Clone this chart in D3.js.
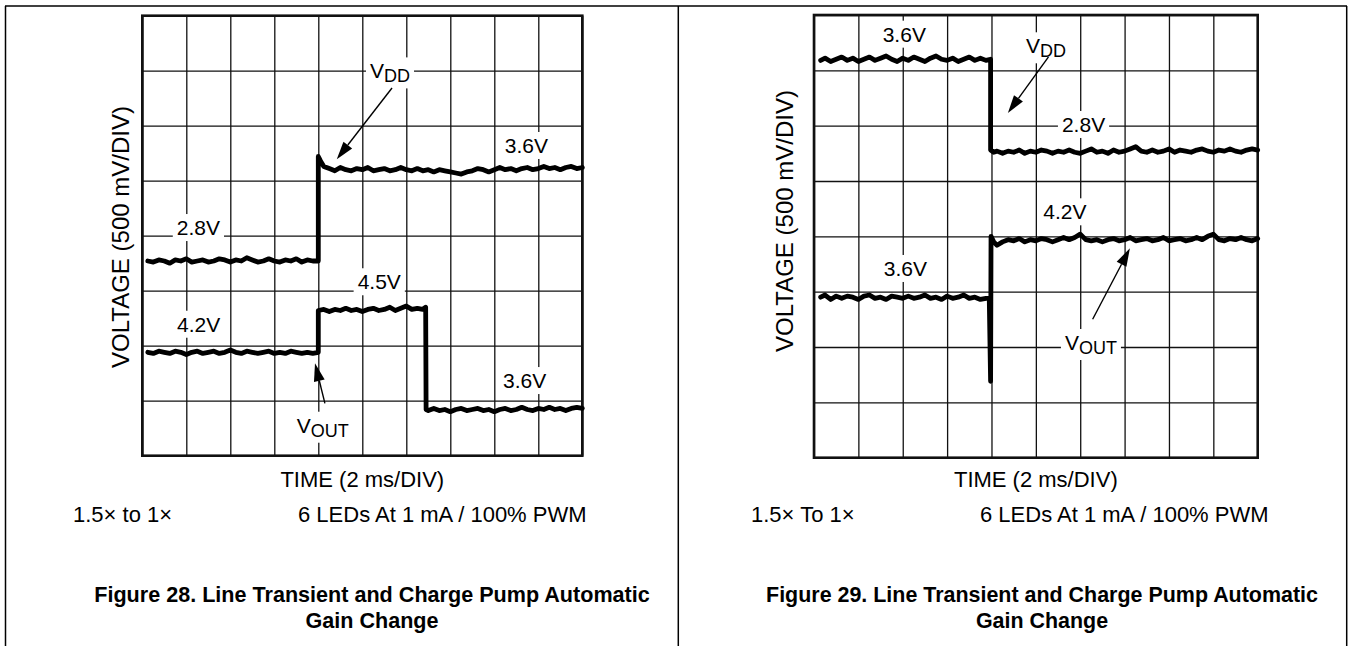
<!DOCTYPE html>
<html><head><meta charset="utf-8">
<script src="https://cdn.jsdelivr.net/npm/d3@7/dist/d3.min.js"></script>
<style>
html,body{margin:0;padding:0;background:#fff;}
svg{display:block;}
text{font-family:"Liberation Sans",Arial,Helvetica,sans-serif;fill:#000;}
</style></head><body>
<svg id="c" width="1354" height="646"></svg>
<script>
// ---- data (screen volts: 0.5 V/div, 8 div; time in ms: 2 ms/div, 10 div) ----
const timeTicks = [0,2,4,6,8,10,12,14,16,18,20];
const voltTicks = [0,0.5,1,1.5,2,2.5,3,3.5,4];

const fig28Vdd = [
  [0.25,1.77],[0.5,1.76],[0.75,1.78],[1,1.77],[1.25,1.75],[1.5,1.78],[1.75,1.77],[2,1.79],[2.25,1.76],[2.5,1.77],[2.75,1.78],[3,1.76],[3.25,1.77],[3.5,1.79],[3.75,1.78],[4,1.76],
  [4.25,1.78],[4.5,1.77],[4.75,1.80],[5,1.78],[5.25,1.76],[5.5,1.77],[5.75,1.79],[6,1.77],[6.25,1.76],[6.5,1.78],[6.75,1.77],[7,1.79],[7.25,1.76],[7.5,1.78],[7.75,1.77],[8,1.77],
  [8,2.72],[8.1,2.68],[8.25,2.63],[8.5,2.61],[8.75,2.59],[9,2.62],[9.25,2.60],[9.5,2.59],[9.75,2.61],[10,2.60],[10.25,2.62],[10.5,2.59],[10.75,2.60],[11,2.61],[11.25,2.59],[11.5,2.60],
  [11.75,2.62],[12,2.60],[12.25,2.59],[12.5,2.61],[12.75,2.59],[13,2.60],[13.25,2.58],[13.5,2.60],[13.75,2.59],[14,2.58],[14.25,2.57],[14.5,2.56],[14.75,2.58],[15,2.59],[15.25,2.61],
  [15.5,2.60],[15.75,2.58],[16,2.60],[16.25,2.62],[16.5,2.60],[16.75,2.61],[17,2.59],[17.25,2.61],[17.5,2.62],[17.75,2.60],[18,2.61],[18.25,2.63],[18.5,2.61],[18.75,2.62],[19,2.60],
  [19.25,2.62],[19.5,2.63],[19.75,2.61],[20,2.62]];
const fig28Vout = [
  [0.25,0.94],[0.5,0.93],[0.75,0.95],[1,0.94],[1.25,0.93],[1.5,0.95],[1.75,0.94],[2,0.92],[2.25,0.94],[2.5,0.95],[2.75,0.93],[3,0.94],[3.25,0.95],[3.5,0.93],[3.75,0.94],[4,0.96],
  [4.25,0.94],[4.5,0.93],[4.75,0.95],[5,0.94],[5.25,0.93],[5.5,0.94],[5.75,0.95],[6,0.93],[6.25,0.94],[6.5,0.93],[6.75,0.95],[7,0.94],[7.25,0.93],[7.5,0.94],[7.75,0.93],[8,0.94],
  [8,1.32],[8.25,1.33],[8.5,1.31],[8.75,1.33],[9,1.32],[9.25,1.34],[9.5,1.32],[9.75,1.33],[10,1.31],[10.25,1.33],[10.5,1.34],[10.75,1.32],[11,1.33],[11.25,1.35],[11.5,1.32],
  [11.75,1.34],[12,1.36],[12.25,1.33],[12.5,1.34],[12.75,1.33],[12.88,1.35],
  [12.9,0.42],[13,0.41],[13.25,0.43],[13.5,0.41],[13.75,0.42],[14,0.40],[14.25,0.42],[14.5,0.43],[14.75,0.41],[15,0.42],[15.25,0.43],[15.5,0.41],[15.75,0.42],[16,0.40],[16.25,0.42],
  [16.5,0.43],[16.75,0.41],[17,0.42],[17.25,0.44],[17.5,0.42],[17.75,0.41],[18,0.43],[18.25,0.42],[18.5,0.44],[18.75,0.42],[19,0.43],[19.25,0.41],[19.5,0.43],[19.75,0.44],[20,0.43]];
const fig29Vdd = [
  [0.3,3.59],[0.5,3.61],[0.75,3.58],[1,3.60],[1.25,3.62],[1.5,3.59],[1.75,3.61],[2,3.58],[2.25,3.60],[2.5,3.62],[2.75,3.59],[3,3.61],[3.25,3.63],[3.5,3.60],[3.75,3.58],[4,3.61],
  [4.25,3.59],[4.5,3.62],[4.75,3.60],[5,3.58],[5.25,3.61],[5.5,3.63],[5.75,3.60],[6,3.59],[6.25,3.61],[6.5,3.58],[6.75,3.60],[7,3.62],[7.25,3.59],[7.5,3.61],[7.75,3.59],[7.96,3.60],
  [7.96,2.78],[8.1,2.76],[8.25,2.77],[8.5,2.75],[8.75,2.77],[9,2.76],[9.25,2.78],[9.5,2.75],[9.75,2.77],[10,2.76],[10.25,2.78],[10.5,2.77],[10.75,2.75],[11,2.77],[11.25,2.76],
  [11.5,2.78],[11.75,2.76],[12,2.75],[12.25,2.77],[12.5,2.79],[12.75,2.76],[13,2.77],[13.25,2.75],[13.5,2.78],[13.75,2.76],[14,2.77],[14.25,2.79],[14.5,2.81],[14.75,2.77],[15,2.76],
  [15.25,2.78],[15.5,2.76],[15.75,2.77],[16,2.79],[16.25,2.76],[16.5,2.78],[16.75,2.77],[17,2.76],[17.25,2.78],[17.5,2.79],[17.75,2.77],[18,2.76],[18.25,2.78],[18.5,2.77],[18.75,2.79],
  [19,2.77],[19.25,2.76],[19.5,2.78],[19.75,2.79],[20,2.78]];
const fig29Vout = [
  [0.3,1.45],[0.5,1.47],[0.75,1.43],[1,1.46],[1.25,1.44],[1.5,1.46],[1.75,1.45],[2,1.43],[2.25,1.46],[2.5,1.47],[2.75,1.44],[3,1.45],[3.25,1.43],[3.5,1.46],[3.75,1.45],[4,1.44],
  [4.25,1.46],[4.5,1.44],[4.75,1.45],[5,1.47],[5.25,1.44],[5.5,1.45],[5.75,1.43],[6,1.46],[6.25,1.44],[6.5,1.45],[6.75,1.47],[7,1.44],[7.25,1.45],[7.5,1.43],[7.75,1.44],[7.9,1.44],
  [7.96,0.69],[7.98,2.00],[8.1,1.95],[8.25,1.92],[8.5,1.95],[8.75,1.97],[9,1.96],[9.25,1.98],[9.5,1.95],[9.75,1.97],[10,1.96],[10.25,1.98],[10.5,1.97],[10.75,1.95],[11,1.97],
  [11.25,1.99],[11.5,1.97],[11.75,1.99],[12,2.02],[12.25,1.97],[12.5,1.96],[12.75,1.97],[13,1.95],[13.25,1.97],[13.5,1.98],[13.75,1.96],[14,1.97],[14.25,1.99],[14.5,1.96],[14.75,1.97],
  [15,1.98],[15.25,1.96],[15.5,1.97],[15.75,1.99],[16,1.96],[16.25,1.97],[16.5,1.98],[16.75,1.96],[17,1.97],[17.25,1.99],[17.5,1.97],[17.75,2.00],[18,2.02],[18.25,1.97],[18.5,1.96],
  [18.75,1.98],[19,1.97],[19.25,1.99],[19.5,1.97],[19.75,1.96],[20,1.98]];

const xTitle = "TIME (2 ms/DIV)";
const yTitle = "VOLTAGE (500 mV/DIV)";
const fig28Notes = ["1.5× to 1×", "6 LEDs At 1 mA / 100% PWM"];
const fig29Notes = ["1.5× To 1×", "6 LEDs At 1 mA / 100% PWM"];
const fig28Caption = ["Figure 28. Line Transient and Charge Pump Automatic", "Gain Change"];
const fig29Caption = ["Figure 29. Line Transient and Charge Pump Automatic", "Gain Change"];

// annotation texts anchored in data coordinates
const fig28Labels = [
  {main:"3.6V", t:17.46, v:2.752, anchor:"middle"},
  {main:"2.8V", t:2.55, v:2.006, anchor:"middle"},
  {main:"4.5V", t:10.77, v:1.513, anchor:"middle"},
  {main:"4.2V", t:2.56, v:1.127, anchor:"middle"},
  {main:"3.6V", t:17.38, v:0.615, anchor:"middle"},
  {main:"V", sub:"OUT", t:7.02, v:0.209, anchor:"start"},
  {main:"V", sub:"DD", t:10.35, v:3.43, anchor:"start"}
];
const fig28Arrows = [
  {from:[11.35,3.343], to:[8.84,2.695]},
  {from:[8.30,0.476], to:[7.85,0.84]}
];
const fig29Labels = [
  {main:"3.6V", t:4.07, v:3.759, anchor:"middle"},
  {main:"V", sub:"DD", t:9.56, v:3.654, anchor:"start"},
  {main:"2.8V", t:12.15, v:2.943, anchor:"middle"},
  {main:"4.2V", t:11.31, v:2.154, anchor:"middle"},
  {main:"3.6V", t:4.12, v:1.642, anchor:"middle"},
  {main:"V", sub:"OUT", t:11.31, v:0.973, anchor:"start"}
];
const fig29Arrows = [
  {from:[10.57,3.621], to:[8.74,3.115]},
  {from:[12.56,1.251], to:[14.24,1.892]}
];

// ---- layout ----
const panels = [
  {grid:{x:142.3,y:15.7,w:440,h:440}, vdd:fig28Vdd, vout:fig28Vout, labels:fig28Labels, arrows:fig28Arrows,
   notes:fig28Notes, notesX:[73,298], caption:fig28Caption, capX:372, capW:556, yLabX:129, yLabY:237},
  {grid:{x:814,y:15,w:443.7,h:442.7}, vdd:fig29Vdd, vout:fig29Vout, labels:fig29Labels, arrows:fig29Arrows,
   notes:fig29Notes, notesX:[751,980], caption:fig29Caption, capX:1042, capW:552, yLabX:793, yLabY:221}
];

const svg = d3.select("#c");
svg.append("rect").attr("width",1354).attr("height",646).attr("fill","#fff");

// page frame
const frame = svg.append("g").attr("stroke","#000").attr("stroke-width",1.5).attr("fill","none");
frame.append("line").attr("x1",5).attr("x2",1347).attr("y1",6).attr("y2",6);
frame.append("line").attr("x1",5.5).attr("x2",5.5).attr("y1",6).attr("y2",646);
frame.append("line").attr("x1",678.3).attr("x2",678.3).attr("y1",6).attr("y2",646);
frame.append("line").attr("x1",1346.7).attr("x2",1346.7).attr("y1",6).attr("y2",646);

panels.forEach(p => {
  const g = p.grid;
  const x = d3.scaleLinear().domain([timeTicks[0], timeTicks[timeTicks.length-1]]).range([g.x, g.x+g.w]);
  const y = d3.scaleLinear().domain([voltTicks[0], voltTicks[voltTicks.length-1]]).range([g.y+g.h, g.y]);
  const root = svg.append("g");

  // grid via axes
  const gx = root.append("g").attr("transform",`translate(0,${g.y+g.h})`)
    .call(d3.axisBottom(x).tickValues(timeTicks).tickSize(-g.h).tickFormat(""));
  const gy = root.append("g").attr("transform",`translate(${g.x},0)`)
    .call(d3.axisLeft(y).tickValues(voltTicks).tickSize(-g.w).tickFormat(""));
  [gx,gy].forEach(a => {
    a.select(".domain").remove();
    a.selectAll(".tick line").attr("stroke","#111").attr("stroke-width",1.3);
  });
  root.append("rect").attr("x",g.x).attr("y",g.y).attr("width",g.w).attr("height",g.h)
    .attr("fill","none").attr("stroke","#111").attr("stroke-width",2.6);

  // labels with white boxes
  const lab = root.append("g");
  p.labels.forEach(l => {
    const grp = lab.append("g");
    const t = grp.append("text").attr("x",x(l.t)).attr("y",y(l.v))
      .attr("text-anchor",l.anchor).attr("font-size",21);
    t.append("tspan").text(l.main);
    if (l.sub) t.append("tspan").attr("font-size",18).attr("dy",4).text(l.sub);
    const bb = t.node().getBBox();
    grp.insert("rect","text").attr("x",bb.x-4).attr("y",bb.y-2).attr("width",bb.width+8).attr("height",bb.height+4).attr("fill","#fff");
  });

  // arrows
  p.arrows.forEach(a => {
    const x1 = x(a.from[0]), y1 = y(a.from[1]), x2 = x(a.to[0]), y2 = y(a.to[1]);
    const ang = Math.atan2(y2-y1, x2-x1), L = 18, W = 5.5;
    const bx = x2 - L*Math.cos(ang), by = y2 - L*Math.sin(ang);
    root.append("line").attr("x1",x1).attr("y1",y1).attr("x2",bx).attr("y2",by).attr("stroke","#000").attr("stroke-width",1.4);
    const pts = [[x2,y2],[bx + W*Math.sin(ang), by - W*Math.cos(ang)],[bx - W*Math.sin(ang), by + W*Math.cos(ang)]];
    root.append("polygon").attr("points",pts.map(d=>d.join(",")).join(" ")).attr("fill","#000");
  });

  // traces
  const line = d3.line().x(d=>x(d[0])).y(d=>y(d[1]));
  [p.vdd, p.vout].forEach(s => {
    root.append("path").attr("d",line(s)).attr("fill","none").attr("stroke","#000")
      .attr("stroke-width",4.8).attr("stroke-linejoin","round").attr("stroke-linecap","round");
  });

  // axis titles
  root.append("text").attr("x",g.x+g.w/2).attr("y",487).attr("text-anchor","middle").attr("font-size",22).text(xTitle);
  root.append("text").attr("transform",`translate(${p.yLabX},${p.yLabY}) rotate(-90)`)
    .attr("text-anchor","middle").attr("font-size",24).text(yTitle);

  // notes
  p.notes.forEach((n,i) => root.append("text").attr("x",p.notesX[i]).attr("y",522).attr("font-size",22).text(n));

  // caption (bold, condensed to the reference width)
  const caps = p.caption.map((c,i) => root.append("text").attr("text-anchor","middle")
    .attr("font-size",22).attr("font-weight","bold").text(c));
  const sx = p.capW / caps[0].node().getComputedTextLength();
  caps.forEach((c,i) => c.attr("transform",`translate(${p.capX},${[602,628][i]}) scale(${sx},1)`));
});
</script>
</body></html>
